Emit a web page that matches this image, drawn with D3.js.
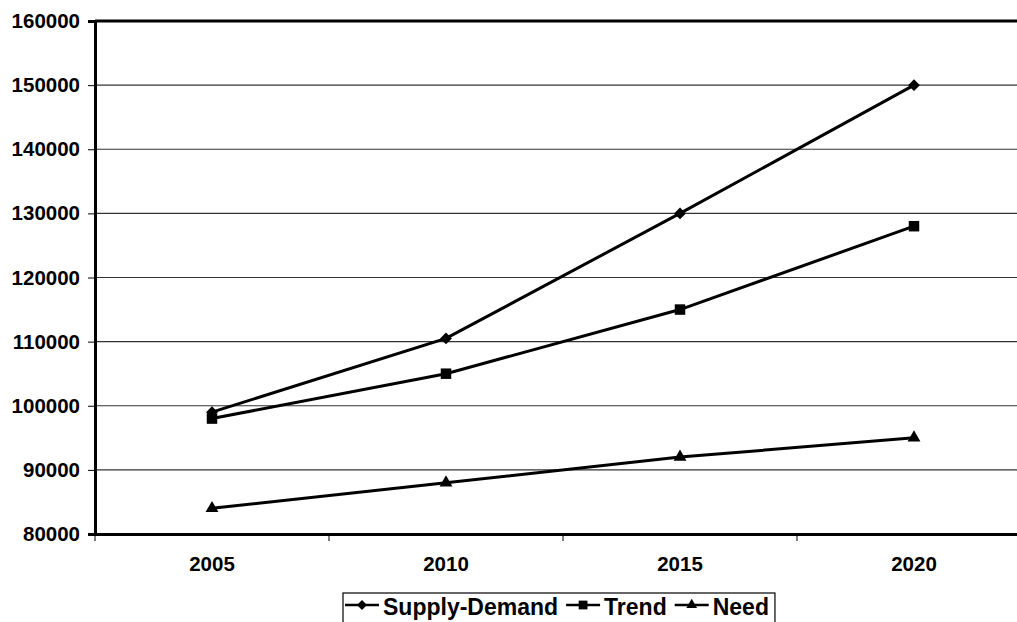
<!DOCTYPE html>
<html><head><meta charset="utf-8">
<script src="https://cdn.jsdelivr.net/npm/d3@7"></script>
<style>body{margin:0;background:#fff;overflow:hidden}svg{display:block}text{font-family:"Liberation Sans",Arial,sans-serif;font-weight:bold;fill:#000}</style>
</head><body>
<script>
const categories = ["2005","2010","2015","2020"];
const supplyDemand = [99000,110500,130000,150000];
const trend = [98000,105000,115000,128000];
const need = [84000,88000,92000,95000];
const yTicks = [80000,90000,100000,110000,120000,130000,140000,150000,160000];
const seriesNames = ["Supply-Demand","Trend","Need"];

(function(){
const W=1017,H=622;
const svg=d3.select("body").append("svg").attr("width",W).attr("height",H);
const pL=95, pR=1031, pT=21, pB=534;
const x=d3.scaleBand().domain(categories).range([pL,pR]);
const y=d3.scaleLinear().domain([80000,160000]).range([pB,pT]);
const FF='"Liberation Sans",Arial,sans-serif';

svg.append("g").selectAll("line").data(yTicks.slice(1,-1)).join("line")
  .attr("x1",pL).attr("x2",pR).attr("y1",d=>y(d)).attr("y2",d=>y(d))
  .attr("stroke","#333").attr("stroke-width",1.2);
svg.append("line").attr("x1",pL).attr("x2",pR).attr("y1",y(160000)).attr("y2",y(160000)).attr("stroke","#000").attr("stroke-width",3);

const yAxis=svg.append("g").attr("transform",`translate(${pL},0)`)
  .call(d3.axisLeft(y).tickValues(yTicks).tickSize(7).tickPadding(8).tickFormat(d3.format("d")));
yAxis.select(".domain").attr("stroke","#000").attr("stroke-width",3);
yAxis.selectAll(".tick line").attr("stroke","#000").attr("stroke-width",1);
yAxis.selectAll("text").attr("font-size","20.5px").attr("font-family",FF).attr("font-weight","bold");

const xAxis=svg.append("g").attr("transform",`translate(0,${pB})`)
  .call(d3.axisBottom(x).tickSize(0).tickPadding(22));
xAxis.select(".domain").attr("stroke","#000").attr("stroke-width",3);
xAxis.selectAll("text").attr("font-size","20.5px").attr("font-family",FF).attr("font-weight","bold");
const bounds=categories.map(c=>x(c)).concat([pR]);
svg.append("g").selectAll("line").data(bounds).join("line")
  .attr("x1",d=>d).attr("x2",d=>d).attr("y1",pB).attr("y2",pB+7)
  .attr("stroke","#000").attr("stroke-width",1);

function marker(g,k,scale){
  if(k===0) return g.append("path").attr("d",d3.symbol().type(d3.symbolSquare).size(70*scale)());
  if(k===1) return g.append("path").attr("d",d3.symbol().type(d3.symbolSquare).size(110*scale)());
  return g.append("path").attr("d",d3.symbol().type(d3.symbolTriangle).size(72*scale)());
}

const cx=c=>x(c)+x.bandwidth()/2;
const allSeries=[supplyDemand,trend,need];
const line=d3.line().x((d,i)=>cx(categories[i])).y(d=>y(d));
allSeries.forEach((s,k)=>{
  svg.append("path").attr("d",line(s)).attr("fill","none").attr("stroke","#000").attr("stroke-width",3);
  s.forEach((d,i)=>{
    const g=svg.append("g").attr("transform",`translate(${cx(categories[i])},${y(d)})${k===0?" rotate(45)":""}`);
    marker(g,k,1).attr("fill","#000");
  });
});

const lg=svg.append("g");
const lx=343, ly=593, ty=615, my=605;
let cur=lx+2;
seriesNames.forEach((n,k)=>{
  const g=lg.append("g");
  g.append("line").attr("x1",cur).attr("x2",cur+34).attr("y1",my).attr("y2",my).attr("stroke","#000").attr("stroke-width",2.5);
  const mg=g.append("g").attr("transform",`translate(${cur+17},${my})${k===0?" rotate(45)":""}`);
  marker(mg,k,0.7).attr("fill","#000");
  const t=g.append("text").attr("x",cur+38).attr("y",ty).attr("font-size","23px").text(n);
  cur=cur+38+t.node().getComputedTextLength()+8;
});
lg.insert("rect",":first-child").attr("x",lx).attr("y",ly).attr("width",cur-lx-2).attr("height",40)
  .attr("fill","#fff").attr("stroke","#000").attr("stroke-width",1.2);
})();
</script>
</body></html>
